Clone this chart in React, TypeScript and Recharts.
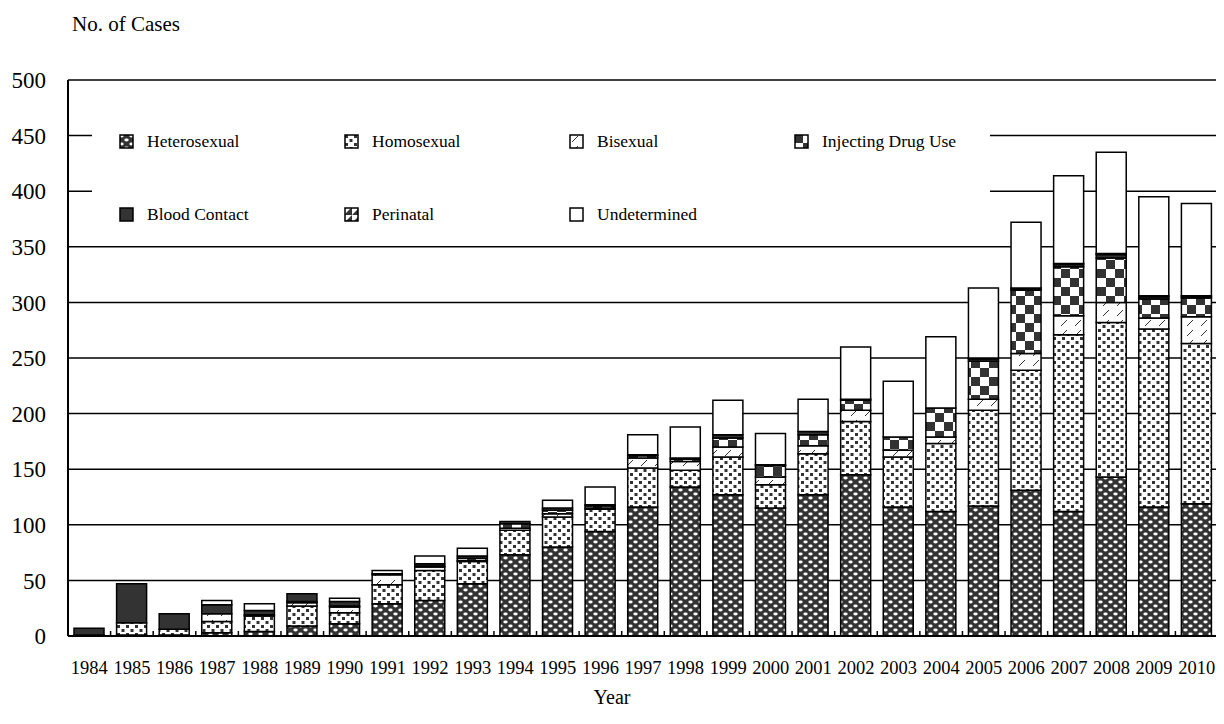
import React from 'react';
import { BarChart, Bar, XAxis, YAxis, CartesianGrid, Legend } from 'recharts';

// Reported cases by exposure category, 1984-2010
const YEARS = [
  '1984', '1985', '1986', '1987', '1988', '1989', '1990', '1991', '1992',
  '1993', '1994', '1995', '1996', '1997', '1998', '1999', '2000', '2001',
  '2002', '2003', '2004', '2005', '2006', '2007', '2008', '2009', '2010',
];
const HETEROSEXUAL = [1, 1, 1, 3, 4, 9, 11, 29, 32, 47, 73, 80, 94, 116, 134, 127, 115, 127, 145, 116, 112, 117, 131, 112, 143, 116, 119];
const HOMOSEXUAL = [0, 11, 5, 10, 14, 18, 10, 17, 27, 20, 22, 27, 20, 35, 15, 34, 21, 37, 48, 45, 61, 86, 108, 159, 139, 160, 144];
const BISEXUAL = [0, 0, 0, 7, 1, 3, 5, 9, 3, 1, 2, 3, 1, 9, 8, 9, 7, 7, 10, 6, 6, 10, 15, 17, 18, 10, 24];
const DRUG_USE = [0, 0, 0, 0, 0, 1, 1, 0, 1, 2, 4, 3, 2, 2, 2, 8, 10, 10, 9, 12, 26, 34, 57, 44, 40, 17, 17];
const BLOOD = [6, 35, 14, 8, 4, 7, 4, 1, 2, 2, 2, 2, 1, 1, 1, 3, 1, 3, 1, 0, 0, 2, 1, 2, 3, 2, 1];
const PERINATAL = [0, 0, 0, 0, 0, 0, 0, 0, 0, 0, 0, 0, 0, 0, 0, 0, 0, 0, 0, 0, 0, 1, 1, 1, 1, 1, 1];
const UNDETERMINED = [0, 0, 0, 4, 6, 0, 3, 3, 7, 7, 0, 7, 16, 18, 28, 31, 28, 29, 47, 50, 64, 63, 59, 79, 91, 89, 83];
const Y_TICKS = [0, 50, 100, 150, 200, 250, 300, 350, 400, 450, 500];

const SERIES = [
  { key: 'hetero', name: 'Heterosexual', fill: 'url(#pHetero)' },
  { key: 'homo', name: 'Homosexual', fill: 'url(#pHomo)' },
  { key: 'bi', name: 'Bisexual', fill: 'url(#pBi)' },
  { key: 'idu', name: 'Injecting Drug Use', fill: 'url(#pIdu)' },
  { key: 'blood', name: 'Blood Contact', fill: '#333333' },
  { key: 'peri', name: 'Perinatal', fill: 'url(#pPeri)' },
  { key: 'undet', name: 'Undetermined', fill: '#ffffff' },
];

const data = YEARS.map((year, i) => ({
  year,
  hetero: HETEROSEXUAL[i],
  homo: HOMOSEXUAL[i],
  bi: BISEXUAL[i],
  idu: DRUG_USE[i],
  blood: BLOOD[i],
  peri: PERINATAL[i],
  undet: UNDETERMINED[i],
}));

const CHART_W = 1216;
const CHART_H = 708;
const Y_AXIS_W = 60;
const MARGIN = { top: 72, right: 6, bottom: 0, left: 0 };
const STEP = (CHART_W - Y_AXIS_W - MARGIN.right) / YEARS.length;
const FONT = '"Liberation Serif", "Times New Roman", serif';

const YearTick = (props: any) => {
  const { x, y, payload, index } = props;
  const left = x - STEP / 2;
  return (
    <g>
      <line x1={left} x2={left} y1={y} y2={y - 5} stroke="#000" strokeWidth={1.5} />
      {index === YEARS.length - 1 && (
        <line x1={x + STEP / 2} x2={x + STEP / 2} y1={y} y2={y - 5} stroke="#000" strokeWidth={1.5} />
      )}
      <text x={x} y={y + 38} textAnchor="middle" fontSize={18.5} fontFamily={FONT} fill="#000">
        {payload.value}
      </text>
    </g>
  );
};

// legend grid: two rows, four columns, laid over the top of the plot
const LEGEND_ROWS = [
  ['hetero', 'homo', 'bi', 'idu'],
  ['blood', 'peri', 'undet'],
];

const renderLegend = () => (
  <div style={{ position: 'relative', width: 898, height: 117, background: '#fff', fontFamily: FONT }}>
    {LEGEND_ROWS.map((row, r) =>
      row.map((key, c) => {
        const s = SERIES.find((d) => d.key === key)!;
        return (
          <div
            key={key}
            style={{
              position: 'absolute',
              left: 27 + c * 225,
              top: 23 + r * 73 - 9,
              height: 18,
              display: 'flex',
              alignItems: 'center',
              whiteSpace: 'nowrap',
            }}
          >
            <svg width={15} height={15} style={{ marginRight: 13 }}>
              <rect x={1} y={1} width={13} height={13} fill={s.fill} stroke="#000" strokeWidth={1.5} />
            </svg>
            <span style={{ fontSize: 17.5, color: '#000' }}>{s.name}</span>
          </div>
        );
      })
    )}
  </div>
);

export default function App() {
  return (
    <div style={{ fontFamily: FONT }}>
      <BarChart width={CHART_W} height={CHART_H} data={data} margin={MARGIN} barSize={30}>
        <defs>
          <pattern id="pHetero" width="10" height="8" patternUnits="userSpaceOnUse">
            <rect width="10" height="8" fill="#333" />
            <ellipse cx="2.5" cy="2" rx="2.2" ry="1.4" fill="#fff" />
            <ellipse cx="7.5" cy="6" rx="2.2" ry="1.4" fill="#fff" />
          </pattern>
          <pattern id="pHomo" width="9" height="8" patternUnits="userSpaceOnUse">
            <rect width="9" height="8" fill="#fff" />
            <rect x="1" y="1" width="3" height="3" fill="#333" />
            <rect x="5.5" y="5" width="3" height="3" fill="#333" />
          </pattern>
          <pattern id="pBi" width="14" height="10" patternUnits="userSpaceOnUse">
            <rect width="14" height="10" fill="#fff" />
            <line x1="3" y1="8" x2="9" y2="2" stroke="#333" strokeWidth="1" />
          </pattern>
          <pattern id="pIdu" width="18" height="18" patternUnits="userSpaceOnUse">
            <rect width="18" height="18" fill="#fff" />
            <rect x="0" y="0" width="9" height="9" fill="#333" />
            <rect x="9" y="9" width="9" height="9" fill="#333" />
          </pattern>
          <pattern id="pPeri" width="8" height="8" patternUnits="userSpaceOnUse">
            <rect width="8" height="8" fill="#fff" />
            <polygon points="8,0 8,8 0,8" fill="#333" />
          </pattern>
        </defs>
        <CartesianGrid vertical={false} stroke="#000" strokeWidth={1.5} />
        <XAxis
          dataKey="year"
          interval={0}
          tickLine={false}
          tickSize={0}
          tickMargin={0}
          height={CHART_H - 628}
          axisLine={{ stroke: '#000', strokeWidth: 2 }}
          tick={<YearTick />}
          label={{
            content: () => (
              <text x={604} y={696} textAnchor="middle" fontSize={20} fontFamily={FONT} fill="#000">
                Year
              </text>
            ),
          }}
        />
        <YAxis
          width={Y_AXIS_W}
          domain={[0, 500]}
          ticks={Y_TICKS}
          tickLine={false}
          tickSize={0}
          tickMargin={22}
          axisLine={{ stroke: '#000', strokeWidth: 2 }}
          tick={{ fill: '#000', fontSize: 23, fontFamily: FONT }}
          label={{
            content: () => (
              <text x={64} y={23} fontSize={21} fontFamily={FONT} fill="#000">
                No. of  Cases
              </text>
            ),
          }}
        />
        <Legend
          layout="horizontal"
          verticalAlign="middle"
          content={renderLegend}
          wrapperStyle={{ position: 'absolute', left: 84, top: 110, width: 898, height: 117 }}
        />
        {SERIES.map((s) => (
          <Bar
            key={s.key}
            dataKey={s.key}
            name={s.name}
            stackId="a"
            fill={s.fill}
            stroke="#000"
            strokeWidth={1.5}
            isAnimationActive={false}
          />
        ))}
      </BarChart>
    </div>
  );
}
